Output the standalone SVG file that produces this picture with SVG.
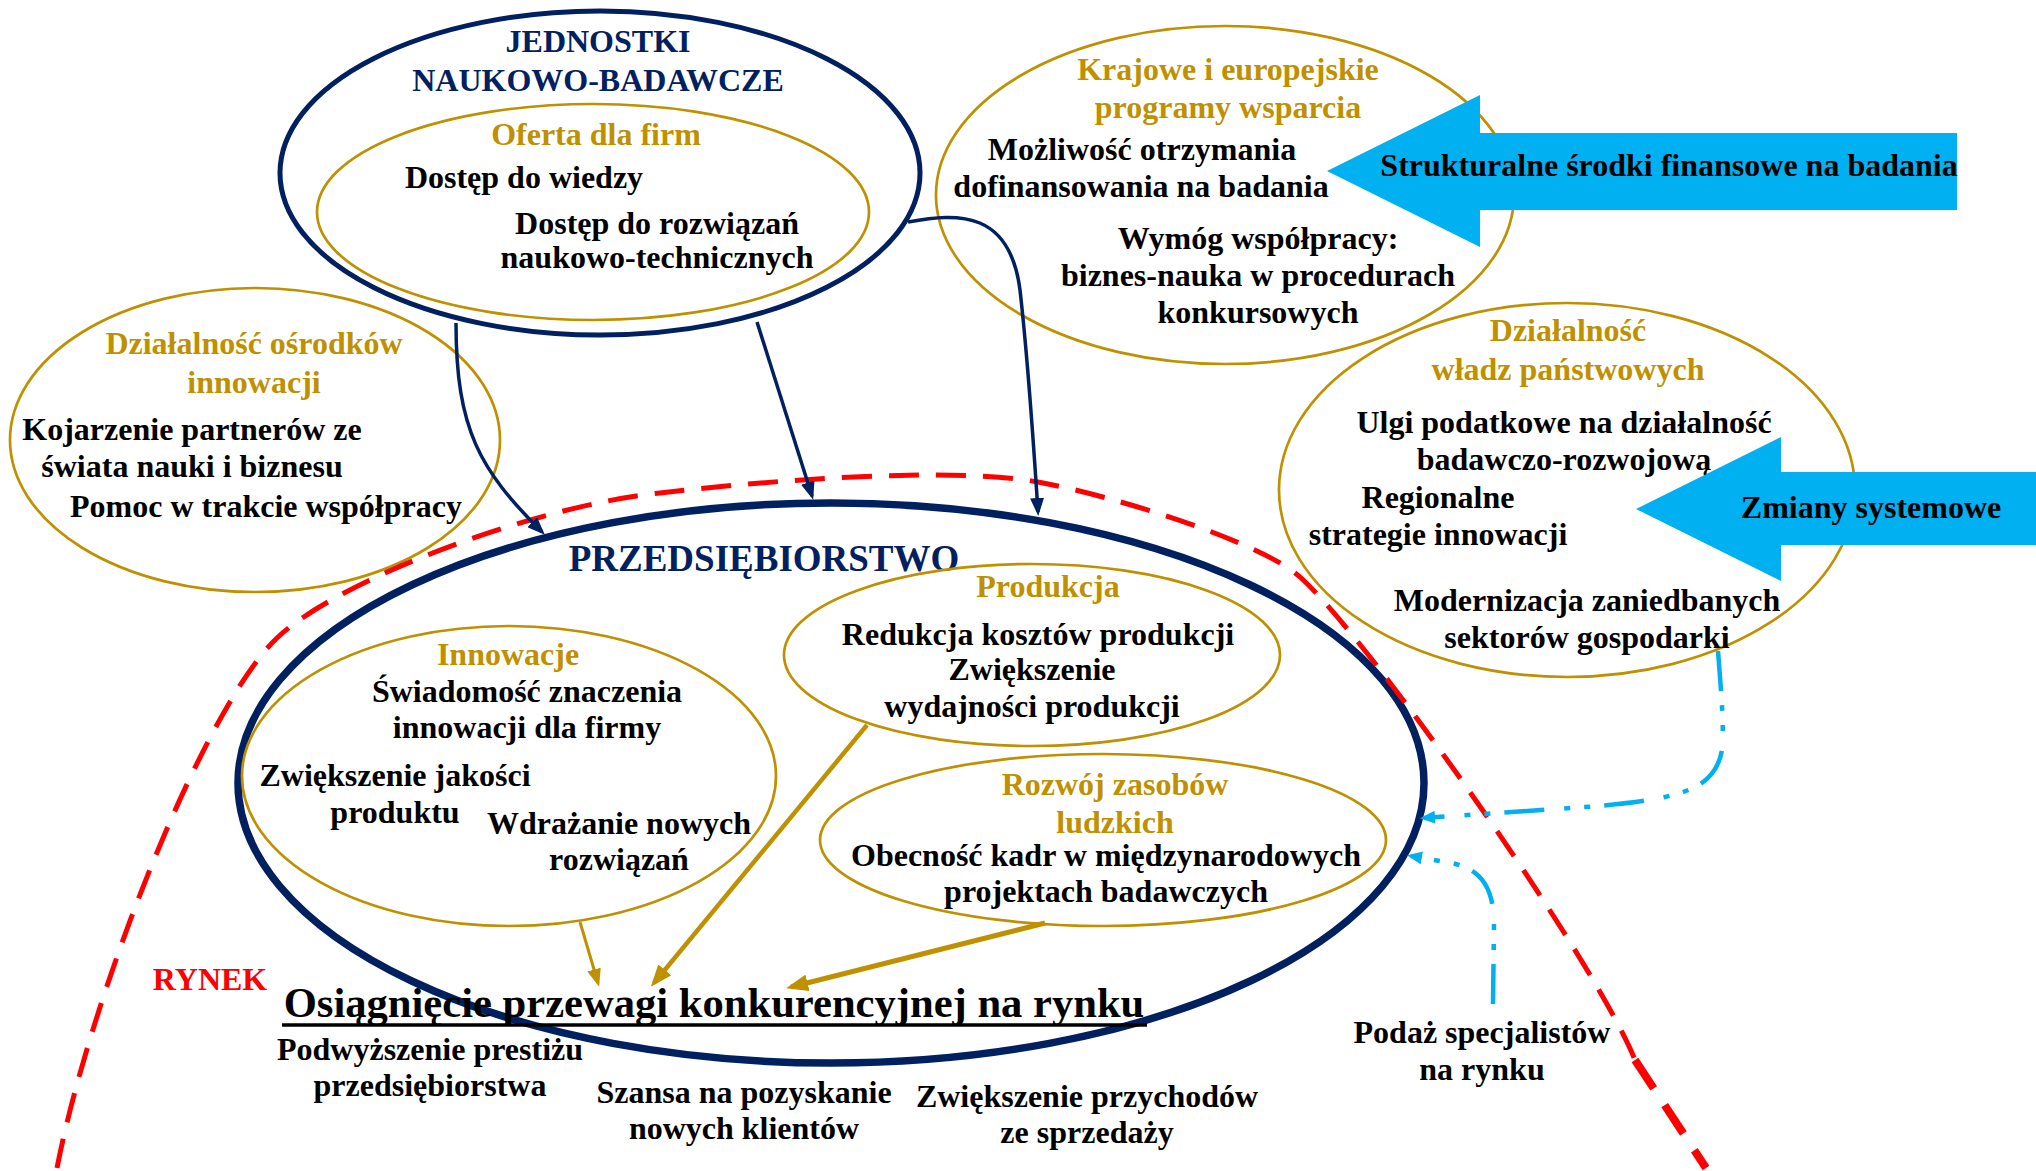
<svg xmlns="http://www.w3.org/2000/svg" width="2036" height="1171" viewBox="0 0 2036 1171">
  <defs>
    <style>
      .t{font-family:"Liberation Serif","Times New Roman",serif;font-weight:bold;font-size:32px;text-anchor:middle}
      .k{fill:#000000}
      .g{fill:#BF9000}
      .n{fill:#002060}
      .r{fill:#FF0000}
      .ringNavy{fill:none;stroke:#002060;stroke-width:5}
      .ringMain{fill:none;stroke:#002060;stroke-width:7.5}
      .ringGold{fill:none;stroke:#BF9000;stroke-width:2.7}
      .bigArrow{fill:#00B0F0}
      .lnNavy{fill:none;stroke:#002060;stroke-width:3.5;marker-end:url(#navyHead)}
      .lnGold{fill:none;stroke:#BF9000;marker-end:url(#goldHead)}
      .lnBlue{fill:none;stroke:#00B0F0;stroke-width:4.5;stroke-dasharray:40 14 6 14 6 20;marker-end:url(#blueHead)}
      .market{fill:none;stroke:#FF0000;stroke-width:5;stroke-dasharray:30 17}
    </style>
    <marker id="navyHead" markerUnits="userSpaceOnUse" markerWidth="18" markerHeight="14" viewBox="0 0 18 14" refX="14" refY="7" orient="auto">
      <path d="M0,0 L18,7 L0,14 z" fill="#002060"/>
    </marker>
    <marker id="goldHead" markerUnits="userSpaceOnUse" markerWidth="18" markerHeight="14" viewBox="0 0 18 14" refX="14" refY="7" orient="auto">
      <path d="M0,0 L18,7 L0,14 z" fill="#BF9000"/>
    </marker>
    <marker id="goldHeadBig" markerUnits="userSpaceOnUse" markerWidth="22" markerHeight="17" viewBox="0 0 22 17" refX="17" refY="8.5" orient="auto">
      <path d="M0,0 L22,8.5 L0,17 z" fill="#BF9000"/>
    </marker>
    <marker id="blueHead" markerUnits="userSpaceOnUse" markerWidth="15" markerHeight="13" viewBox="0 0 15 13" refX="11" refY="6.5" orient="auto">
      <path d="M0,0 L15,6.5 L0,13 z" fill="#00B0F0"/>
    </marker>
  </defs>

  <rect x="0" y="0" width="2036" height="1171" fill="#FFFFFF"/>

  <!-- research institutions and their offer -->
  <g id="jednostki">
    <ellipse cx="600" cy="173" rx="320" ry="162" class="ringNavy"/>
    <text x="598" y="52" class="t n">JEDNOSTKI</text>
    <text x="598" y="91" class="t n">NAUKOWO-BADAWCZE</text>
  </g>
  <g id="oferta">
    <ellipse cx="593" cy="212" rx="276" ry="108" class="ringGold"/>
    <text x="596" y="145" class="t g">Oferta dla firm</text>
    <text x="524" y="188" class="t k">Dostęp do wiedzy</text>
    <text x="657" y="234" class="t k">Dostęp do rozwiązań</text>
    <text x="657" y="268" class="t k">naukowo-technicznych</text>
  </g>

  <!-- support programmes -->
  <g id="programy">
    <ellipse cx="1225" cy="195" rx="289" ry="169" class="ringGold"/>
    <text x="1228" y="80" class="t g">Krajowe i europejskie</text>
    <text x="1228" y="118" class="t g">programy wsparcia</text>
    <text x="1142" y="160" class="t k">Możliwość otrzymania</text>
    <text x="1141" y="197" class="t k">dofinansowania na badania</text>
    <text x="1258" y="249" class="t k">Wymóg współpracy:</text>
    <text x="1258" y="286" class="t k">biznes-nauka w procedurach</text>
    <text x="1258" y="323" class="t k">konkursowych</text>
  </g>

  <!-- innovation centres -->
  <g id="osrodki">
    <ellipse cx="255" cy="440" rx="245" ry="152" class="ringGold"/>
    <text x="254" y="354" class="t g">Działalność ośrodków</text>
    <text x="254" y="393" class="t g">innowacji</text>
    <text x="192" y="440" class="t k">Kojarzenie partnerów ze</text>
    <text x="192" y="477" class="t k">świata nauki i biznesu</text>
    <text x="266" y="517" class="t k">Pomoc w trakcie współpracy</text>
  </g>

  <!-- state authorities -->
  <g id="wladze">
    <ellipse cx="1567" cy="490" rx="288" ry="187" class="ringGold"/>
    <text x="1568" y="341" class="t g">Działalność</text>
    <text x="1568" y="380" class="t g">władz państwowych</text>
    <text x="1564" y="433" class="t k">Ulgi podatkowe na działalność</text>
    <text x="1564" y="470" class="t k">badawczo-rozwojową</text>
    <text x="1438" y="508" class="t k">Regionalne</text>
    <text x="1438" y="545" class="t k">strategie innowacji</text>
    <text x="1587" y="611" class="t k">Modernizacja zaniedbanych</text>
    <text x="1587" y="648" class="t k">sektorów gospodarki</text>
  </g>

  <!-- wide block arrows -->
  <g id="srodki">
    <polygon class="bigArrow" points="1327,171 1480,95 1480,133 1957,133 1957,210 1480,210 1480,247"/>
    <text x="1669" y="176" class="t k">Strukturalne środki finansowe na badania</text>
  </g>
  <g id="zmiany">
    <polygon class="bigArrow" points="1636,509 1781,437 1781,472 2036,472 2036,545 1781,545 1781,581"/>
    <text x="1871" y="518" class="t k">Zmiany systemowe</text>
  </g>

  <!-- the enterprise -->
  <g id="przedsiebiorstwo">
    <ellipse cx="831" cy="783" rx="593" ry="280" class="ringMain"/>
    <text x="764" y="571" class="t n" style="font-size:37px">PRZEDSIĘBIORSTWO</text>
  </g>
  <g id="innowacje">
    <ellipse cx="509" cy="776" rx="267" ry="150" class="ringGold"/>
    <text x="508" y="665" class="t g">Innowacje</text>
    <text x="527" y="702" class="t k">Świadomość znaczenia</text>
    <text x="527" y="738" class="t k">innowacji dla firmy</text>
    <text x="395" y="786" class="t k">Zwiększenie jakości</text>
    <text x="395" y="823" class="t k">produktu</text>
    <text x="619" y="834" class="t k">Wdrażanie nowych</text>
    <text x="619" y="870" class="t k">rozwiązań</text>
  </g>
  <g id="produkcja">
    <ellipse cx="1032" cy="655" rx="248" ry="91" class="ringGold"/>
    <text x="1048" y="597" class="t g">Produkcja</text>
    <text x="1038" y="645" class="t k">Redukcja kosztów produkcji</text>
    <text x="1032" y="680" class="t k">Zwiększenie</text>
    <text x="1032" y="717" class="t k">wydajności produkcji</text>
  </g>
  <g id="rozwoj">
    <ellipse cx="1103" cy="840" rx="283" ry="86" class="ringGold"/>
    <text x="1115" y="795" class="t g">Rozwój zasobów</text>
    <text x="1115" y="833" class="t g">ludzkich</text>
    <text x="1106" y="866" class="t k">Obecność kadr w międzynarodowych</text>
    <text x="1106" y="902" class="t k">projektach badawczych</text>
  </g>

  <!-- market boundary -->
  <g id="rynek">
    <path class="market" d="M57,1168 C92,990 205,706 277,638 C340,578 540,505 660,493 C760,481 950,466 1038,482 C1110,495 1260,541 1300,577 C1370,640 1595,960 1635,1060"/>
    <path class="market" d="M1635,1060 L1706,1168" style="stroke-width:8;stroke-dasharray:34 20"/>
    <text x="210" y="990" class="t r">RYNEK</text>
  </g>

  <!-- competitive advantage and its effects -->
  <g id="przewaga">
    <text x="714" y="1017" class="t k" style="font-size:42.6px">Osiągnięcie przewagi konkurencyjnej na rynku</text>
    <line x1="282" y1="1025" x2="1147" y2="1025" stroke="#000000" stroke-width="3.5"/>
    <text x="430" y="1060" class="t k">Podwyższenie prestiżu</text>
    <text x="430" y="1096" class="t k">przedsiębiorstwa</text>
    <text x="744" y="1103" class="t k">Szansa na pozyskanie</text>
    <text x="744" y="1139" class="t k">nowych klientów</text>
    <text x="1087" y="1107" class="t k">Zwiększenie przychodów</text>
    <text x="1087" y="1143" class="t k">ze sprzedaży</text>
  </g>

  <g id="podaz">
    <text x="1482" y="1043" class="t k">Podaż specjalistów</text>
    <text x="1482" y="1080" class="t k">na rynku</text>
  </g>

  <!-- connectors -->
  <g id="connectors">
    <path class="lnNavy" d="M456,323 C456,430 480,470 542,532"/>
    <path class="lnNavy" d="M757,322 L812,496"/>
    <path class="lnNavy" d="M908,222 C960,212 1010,212 1020,290 C1028,360 1034,450 1038,512"/>
    <path class="lnGold" d="M580,922 L598,983" style="stroke-width:3"/>
    <path class="lnGold" d="M867,725 L654,983" style="stroke-width:4.5;marker-end:url(#goldHeadBig)"/>
    <path class="lnGold" d="M1045,923 L791,987" style="stroke-width:5;marker-end:url(#goldHeadBig)"/>
    <path class="lnBlue" d="M1718,651 C1722,700 1724,730 1722,750 C1715,790 1680,798 1600,806 L1424,818"/>
    <path class="lnBlue" d="M1493,1004 L1494,925 C1494,880 1475,866 1445,862 L1411,856"/>
  </g>
</svg>
